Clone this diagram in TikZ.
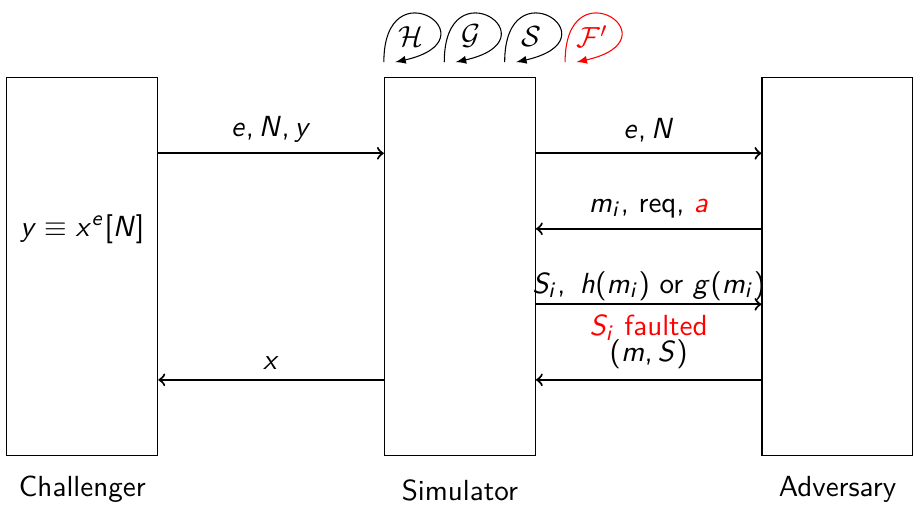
\documentclass[tikz,border=0pt,11pt]{standalone}
\usepackage{amsmath}
\usepackage{amssymb}
\usepackage{tikz}
% sans serif math as on slides
\SetSymbolFont{operators}{normal}{OT1}{cmss}{m}{n}
\SetSymbolFont{letters}{normal}{OT1}{cmss}{m}{sl}
\DeclareMathSymbol{,}{\mathpunct}{operators}{"2C}
\tikzset{
  party/.style={draw,minimum width=2cm,minimum height=5cm,inner sep=0pt},
  msg/.style={thick,->},
  every node/.style={font=\sffamily}
}
\begin{document}
\begin{tikzpicture}
  \useasboundingbox (-0.09,-0.66) rectangle (12.0,6.03);
  \node[party] (chal) at (1,2.5) {};
  \node[party] (sim) at (6,2.5) {};
  \node[party] (adv) at (11,2.5) {};
  \node (eq) at (1,3) {$y\equiv x^{e}[N]$};
  \node (chalname) at (1,-0.45) {Challenger};
  \node (simname) at (6,-0.47) {Simulator};
  \node (advname) at (11,-0.45) {Adversary};
  % oracles of the simulator
  \foreach [count=\i from 0] \lab/\col in {{\mathcal{H}}/black,{\mathcal{G}}/black,{\mathcal{S}}/black,{\mathcal{F}'}/red}
  {
    \coordinate (ls\i) at ([xshift=\i*0.8cm,yshift=0.2cm]sim.north west);
    \coordinate (le\i) at ([xshift=0.15cm]ls\i);
    \node[text=\col] (orc\i) at ([xshift=0.36cm,yshift=0.34cm]ls\i) {$\lab$};
    \draw[-latex,\col] (ls\i) .. controls +(0,1.3) and +(1.35,0.3) .. (le\i);
  }
  % messages
  \draw[msg] ([yshift=1.5cm]chal.east) -- node[above] {$e,N,y$} ([yshift=1.5cm]sim.west);
  \draw[msg] ([yshift=1.5cm]sim.east) -- node[above] {$e,N$} ([yshift=1.5cm]adv.west);
  \draw[msg] ([yshift=0.5cm]adv.west) -- node[above] {$m_i$, req, \textcolor{red}{$a$}} ([yshift=0.5cm]sim.east);
  \draw[msg] ([yshift=-0.5cm]sim.east) -- node[above,inner sep=1pt] {$S_i,\ h(m_i)$ or $g(m_i)$}
                                          node[below,text=red] {$S_i$ faulted} ([yshift=-0.5cm]adv.west);
  \draw[msg] ([yshift=-1.5cm]adv.west) -- node[above] {$(m,S)$} ([yshift=-1.5cm]sim.east);
  \draw[msg] ([yshift=-1.5cm]sim.west) -- node[above] {$x$} ([yshift=-1.5cm]chal.east);
\end{tikzpicture}
\end{document}
